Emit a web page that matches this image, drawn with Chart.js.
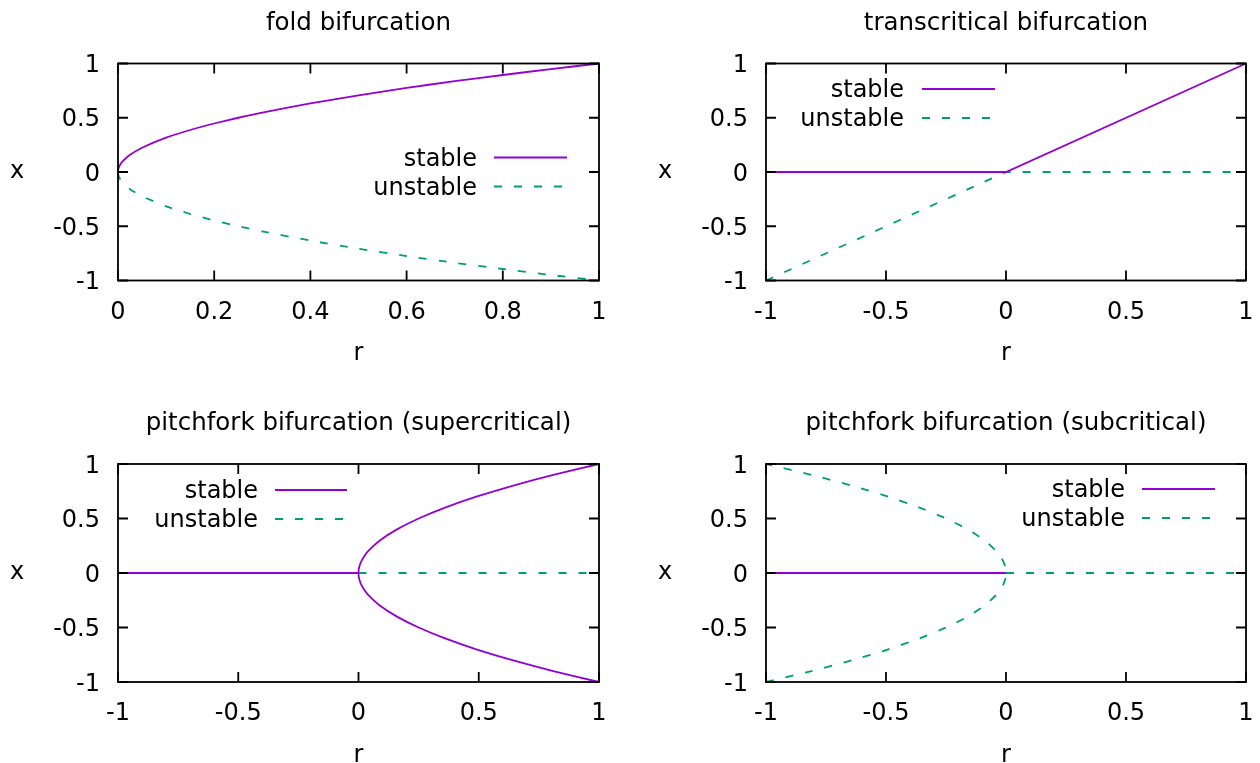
<!DOCTYPE html>
<html lang="en">
<head>
    <meta charset="UTF-8">
    <title>Bifurcation diagrams</title>
    <script src="https://cdn.jsdelivr.net/npm/chart.js"></script>
    <style>
        body { margin: 0; overflow: hidden; background: #fff; }
        #wrap { position: relative; width: 1260px; height: 763px; overflow: hidden; }
        canvas { position: absolute; }
    </style>
</head>
<body>
    <div id="wrap">
        <canvas id="fold" width="630" height="380" style="left:0;top:0"></canvas>
        <canvas id="trans" width="630" height="380" style="left:630px;top:0"></canvas>
        <canvas id="pitchSuper" width="630" height="380" style="left:0;top:400px"></canvas>
        <canvas id="pitchSub" width="630" height="380" style="left:630px;top:400px"></canvas>
    </div>

    <script>
        // tick labels
        const foldTicks = [0, 0.2, 0.4, 0.6, 0.8, 1];
        const unitTicks = [-1, -0.5, 0, 0.5, 1];

        // fold: the two branches meet at r = 0
        const foldR = [0, 0.0005, 0.002, 0.005, 0.01, 0.025, 0.05, 0.1, 0.15, 0.2, 0.25, 0.3, 0.4, 0.5, 0.6, 0.7, 0.8, 0.9, 1];
        const foldStable = [0, 0.022, 0.045, 0.071, 0.1, 0.158, 0.224, 0.316, 0.387, 0.447, 0.5, 0.548, 0.632, 0.707, 0.775, 0.837, 0.894, 0.949, 1];
        const foldUnstable = [0, -0.022, -0.045, -0.071, -0.1, -0.158, -0.224, -0.316, -0.387, -0.447, -0.5, -0.548, -0.632, -0.707, -0.775, -0.837, -0.894, -0.949, -1];

        // transcritical: branches swap stability at r = 0
        const transR = [-1, 0, 1];
        const transStable = [0, 0, 1];
        const transUnstable = [-1, 0, 0];

        // pitchfork: curved branch listed along x, r read for each point
        const branchX = [-1, -0.9, -0.8, -0.7, -0.6, -0.5, -0.4, -0.3, -0.2, -0.15, -0.1, -0.06, -0.03, 0, 0.03, 0.06, 0.1, 0.15, 0.2, 0.3, 0.4, 0.5, 0.6, 0.7, 0.8, 0.9, 1];
        const superR = [1, 0.81, 0.64, 0.49, 0.36, 0.25, 0.16, 0.09, 0.04, 0.0225, 0.01, 0.0036, 0.0009, 0, 0.0009, 0.0036, 0.01, 0.0225, 0.04, 0.09, 0.16, 0.25, 0.36, 0.49, 0.64, 0.81, 1];
        const subR = [-1, -0.81, -0.64, -0.49, -0.36, -0.25, -0.16, -0.09, -0.04, -0.0225, -0.01, -0.0036, -0.0009, 0, -0.0009, -0.0036, -0.01, -0.0225, -0.04, -0.09, -0.16, -0.25, -0.36, -0.49, -0.64, -0.81, -1];

        // x = 0 branch on either side of the origin
        const negR = [-1, 0];
        const posR = [0, 1];
        const zeroX = [0, 0];

        const PURPLE = 'rgb(148, 0, 211)';
        const GREEN = 'rgb(0, 158, 115)';
        const FONT = '24px "DejaVu Sans"';
        const TITLE_FONT = '24.5px "DejaVu Sans"';

        function pts(rs, xs) {
            return rs.map((r, i) => ({ x: r, y: xs[i] }));
        }

        function stable(rs, xs, tension = 0) {
            return {
                label: 'stable', data: pts(rs, xs), showLine: true,
                borderColor: PURPLE, borderWidth: 1.8, pointRadius: 0,
                tension: tension, clip: false
            };
        }

        function unstable(rs, xs, tension = 0) {
            return {
                label: 'unstable', data: pts(rs, xs), showLine: true,
                borderColor: GREEN, borderWidth: 1.8, borderDash: [8, 12], pointRadius: 0,
                tension: tension, clip: false
            };
        }

        const panels = [
            {
                id: 'fold', title: 'fold bifurcation', rMin: 0, rMax: 1, rTicks: foldTicks,
                padding: { left: 118, right: 31, top: 63.5, bottom: 99.5 },
                key: { textRight: 477, lineStart: 494, lineEnd: 567, rows: [157.5, 186.5] },
                datasets: [stable(foldR, foldStable, 0.2), unstable(foldR, foldUnstable, 0.2)]
            },
            {
                id: 'trans', title: 'transcritical bifurcation', rMin: -1, rMax: 1, rTicks: unitTicks,
                padding: { left: 136, right: 14, top: 63.5, bottom: 99.5 },
                key: { textRight: 274, lineStart: 292, lineEnd: 365, rows: [89, 118] },
                datasets: [stable(transR, transStable), unstable(transR, transUnstable)]
            },
            {
                id: 'pitchSuper', title: 'pitchfork bifurcation (supercritical)', rMin: -1, rMax: 1, rTicks: unitTicks,
                padding: { left: 118, right: 31, top: 64, bottom: 98 },
                key: { textRight: 258, lineStart: 275, lineEnd: 347, rows: [90, 119] },
                datasets: [stable(negR, zeroX), stable(superR, branchX, 0.2), unstable(posR, zeroX)]
            },
            {
                id: 'pitchSub', title: 'pitchfork bifurcation (subcritical)', rMin: -1, rMax: 1, rTicks: unitTicks,
                padding: { left: 136, right: 14, top: 64, bottom: 98 },
                key: { textRight: 495, lineStart: 512, lineEnd: 585, rows: [89, 118] },
                datasets: [stable(negR, zeroX), unstable(posR, zeroX), unstable(subR, branchX, 0.2)]
            }
        ];

        // border, inward ticks on all four sides, labels and key
        function frame(p) {
            return {
                id: 'frame',
                afterDatasetsDraw(chart) {
                    const ctx = chart.ctx;
                    const a = chart.chartArea;
                    const xs = chart.scales.x;
                    const ys = chart.scales.y;
                    ctx.save();
                    ctx.strokeStyle = '#000';
                    ctx.lineWidth = 1.8;
                    ctx.setLineDash([]);
                    ctx.strokeRect(a.left, a.top, a.right - a.left, a.bottom - a.top);

                    ctx.beginPath();
                    p.rTicks.forEach(v => {
                        const px = xs.getPixelForValue(v);
                        ctx.moveTo(px, a.bottom); ctx.lineTo(px, a.bottom - 10);
                        ctx.moveTo(px, a.top); ctx.lineTo(px, a.top + 10);
                    });
                    unitTicks.forEach(v => {
                        const py = ys.getPixelForValue(v);
                        ctx.moveTo(a.left, py); ctx.lineTo(a.left + 10, py);
                        ctx.moveTo(a.right, py); ctx.lineTo(a.right - 10, py);
                    });
                    ctx.stroke();

                    ctx.fillStyle = '#000';
                    ctx.textBaseline = 'alphabetic';
                    ctx.textAlign = 'center';
                    const mid = (a.left + a.right) / 2;
                    ctx.font = TITLE_FONT;
                    ctx.fillText(p.title, mid, a.top - 34);

                    ctx.font = FONT;
                    p.rTicks.forEach(v => {
                        ctx.fillText(String(v), xs.getPixelForValue(v), a.bottom + 38);
                    });
                    ctx.fillText('r', mid, a.bottom + 79.5);
                    ctx.fillText('x', a.left - 101, (a.top + a.bottom) / 2 + 6);

                    ctx.textAlign = 'right';
                    unitTicks.forEach(v => {
                        ctx.fillText(String(v), a.left - 18, ys.getPixelForValue(v) + 8.6);
                    });

                    // one key entry per label
                    const seen = [];
                    chart.data.datasets.forEach(ds => {
                        if (seen.includes(ds.label)) return;
                        const y = p.key.rows[seen.length];
                        seen.push(ds.label);
                        ctx.fillText(ds.label, p.key.textRight, y + 8);
                        ctx.beginPath();
                        ctx.strokeStyle = ds.borderColor;
                        ctx.lineWidth = ds.borderWidth;
                        ctx.setLineDash(ds.borderDash || []);
                        ctx.moveTo(p.key.lineStart, y);
                        ctx.lineTo(p.key.lineEnd, y);
                        ctx.stroke();
                    });
                    ctx.restore();
                }
            };
        }

        panels.forEach(p => {
            const ctx = document.getElementById(p.id).getContext('2d');
            new Chart(ctx, {
                type: 'scatter',
                data: { datasets: p.datasets },
                options: {
                    responsive: false,
                    animation: false,
                    layout: { padding: p.padding },
                    scales: {
                        x: { type: 'linear', display: false, min: p.rMin, max: p.rMax },
                        y: { type: 'linear', display: false, min: -1, max: 1 }
                    },
                    plugins: {
                        legend: { display: false },
                        tooltip: { enabled: false }
                    }
                },
                plugins: [frame(p)]
            });
        });
    </script>
</body>
</html>
